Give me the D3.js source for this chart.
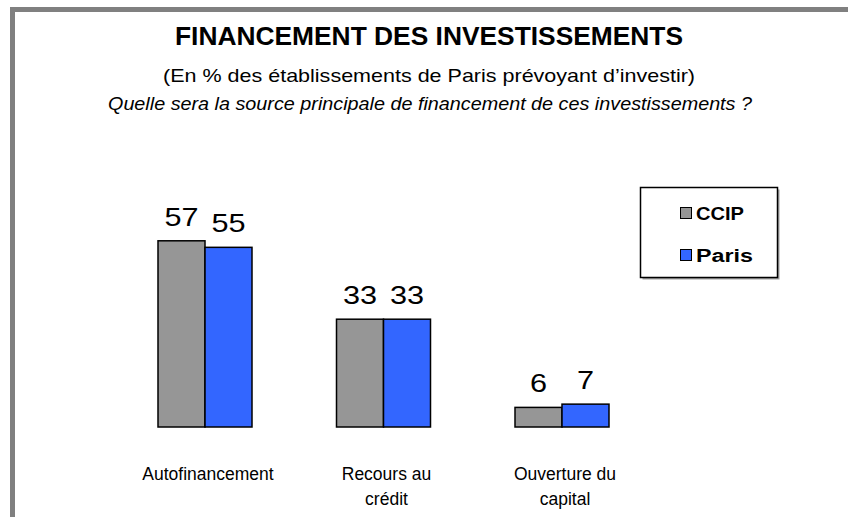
<!DOCTYPE html>
<html>
<head>
<meta charset="utf-8">
<script src="https://cdn.jsdelivr.net/npm/d3@7"></script>
<style>
  html, body { margin: 0; padding: 0; background: #fff; }
  svg { display: block; font-family: Arial, "Liberation Sans", sans-serif; }
</style>
</head>
<body>
<svg id="chart" width="848" height="517"></svg>
<script>
// Data
const categories = [["Autofinancement"], ["Recours au", "crédit"], ["Ouverture du", "capital"]];
const seriesNames = ["CCIP", "Paris"];
const ccipValues = [57, 33, 6];
const parisValues = [55, 33, 7];
const seriesColors = ["#969696", "#3366FF"];

const svg = d3.select("#chart");

// Outer frame (top and left edges)
svg.append("path")
  .attr("d", "M12.5,517 L12.5,9.5 L848,9.5")
  .attr("fill", "none")
  .attr("stroke", "#808080")
  .attr("stroke-width", 5);

// Titles
svg.append("text")
  .attr("x", 429).attr("y", 45)
  .attr("text-anchor", "middle")
  .attr("font-weight", "bold")
  .attr("font-size", 25)
  .attr("textLength", 508).attr("lengthAdjust", "spacingAndGlyphs")
  .text("FINANCEMENT DES INVESTISSEMENTS");

svg.append("text")
  .attr("x", 429).attr("y", 82)
  .attr("text-anchor", "middle")
  .attr("font-size", 19)
  .attr("textLength", 532).attr("lengthAdjust", "spacingAndGlyphs")
  .text("(En % des établissements de Paris prévoyant d’investir)");

svg.append("text")
  .attr("x", 430).attr("y", 110)
  .attr("text-anchor", "middle")
  .attr("font-size", 19)
  .attr("font-style", "italic")
  .attr("textLength", 644).attr("lengthAdjust", "spacingAndGlyphs")
  .text("Quelle sera la source principale de financement de ces investissements ?");

// Scales
const catKeys = categories.map(c => c.join(" "));
const x0 = d3.scalePoint().domain(catKeys).range([205, 562]);
const x1 = d3.scaleBand().domain(seriesNames).range([-47, 47]).padding(0);
const y = d3.scaleLinear().domain([0, 60]).range([427, 231]);

const rows = catKeys.map((k, i) => ({
  key: k,
  values: [
    { name: seriesNames[0], value: ccipValues[i], color: seriesColors[0] },
    { name: seriesNames[1], value: parisValues[i], color: seriesColors[1] }
  ]
}));

const groups = svg.append("g").selectAll("g")
  .data(rows).join("g")
  .attr("transform", d => `translate(${x0(d.key)},0)`);

groups.selectAll("rect")
  .data(d => d.values).join("rect")
  .attr("x", d => x1(d.name))
  .attr("y", d => y(d.value))
  .attr("width", x1.bandwidth())
  .attr("height", d => y(0) - y(d.value))
  .attr("fill", d => d.color)
  .attr("stroke", "#000")
  .attr("stroke-width", 1.5);

groups.selectAll("text.val")
  .data(d => d.values).join("text")
  .attr("class", "val")
  .attr("x", d => x1(d.name) + x1.bandwidth() / 2)
  .attr("y", d => y(d.value) - 15)
  .attr("text-anchor", "middle")
  .attr("font-size", 26)
  .attr("transform", d => {
    const cx = x1(d.name) + x1.bandwidth() / 2;
    return `translate(${cx},0) scale(1.18,1) translate(${-cx},0)`;
  })
  .text(d => d.value);

// Category axis labels
const axis = svg.append("g");
categories.forEach((lines, i) => {
  const cx = x0(catKeys[i]) + 3;
  const t = axis.append("text")
    .attr("x", cx)
    .attr("y", 480)
    .attr("text-anchor", "middle")
    .attr("font-size", 17.5);
  lines.forEach((ln, j) => {
    t.append("tspan")
      .attr("x", cx)
      .attr("dy", j === 0 ? 0 : 25)
      .text(ln);
  });
});

// Legend
const legend = svg.append("g").attr("transform", "translate(640,187)");
legend.append("rect")
  .attr("x", 2.5).attr("y", 2.5).attr("width", 137).attr("height", 90)
  .attr("fill", "#a0a0a0");
legend.append("rect")
  .attr("x", 0.5).attr("y", 0.5).attr("width", 137).attr("height", 90)
  .attr("fill", "#fff").attr("stroke", "#000").attr("stroke-width", 1.5);

const legendTextWidths = [48, 57];
seriesNames.forEach((name, i) => {
  const ly = 26 + i * 42;
  legend.append("rect")
    .attr("x", 40.5).attr("y", ly - 5.5).attr("width", 11).attr("height", 11)
    .attr("fill", seriesColors[i]).attr("stroke", "#000").attr("stroke-width", 1);
  legend.append("text")
    .attr("x", 56).attr("y", ly + 7)
    .attr("font-size", 18).attr("font-weight", "bold")
    .attr("textLength", legendTextWidths[i]).attr("lengthAdjust", "spacingAndGlyphs")
    .text(name);
});
</script>
</body>
</html>
